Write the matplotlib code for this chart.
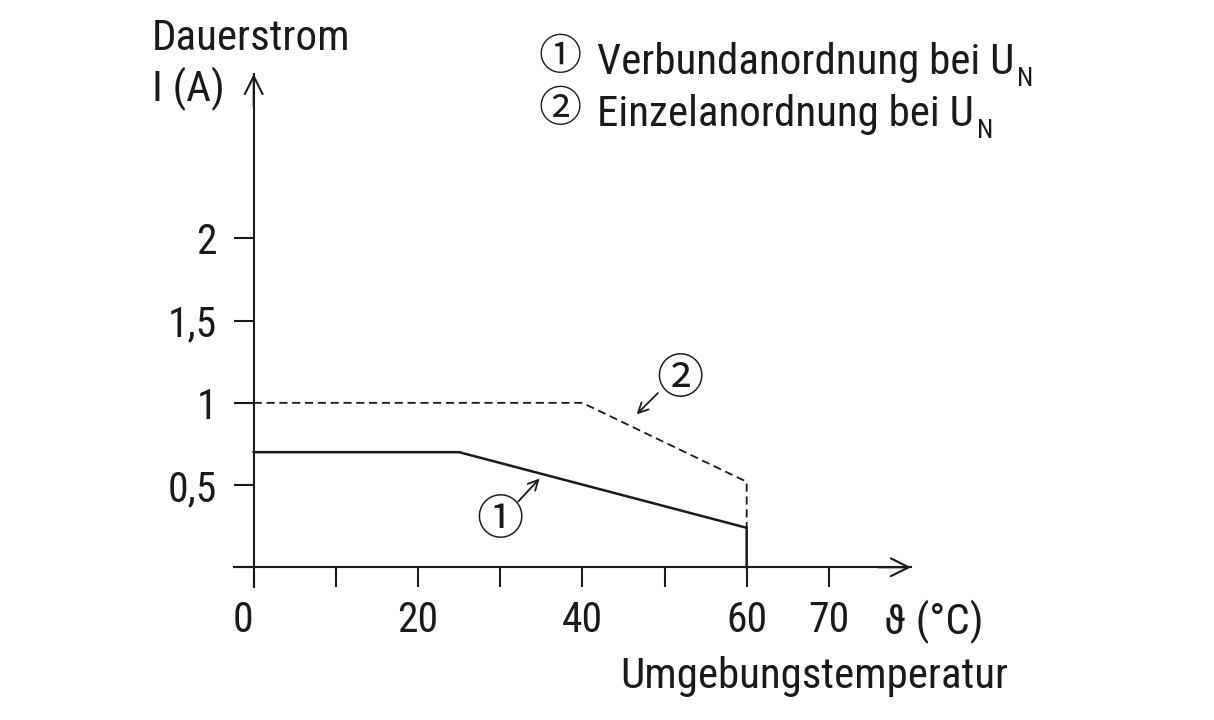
import numpy as np
import matplotlib
matplotlib.use("Agg")
import matplotlib.pyplot as plt
from matplotlib import font_manager

# data
temp_verbund = [0, 25, 60, 60]
strom_verbund = [0.7, 0.7, 0.24, 0.0]
temp_einzel = [0, 40, 60, 60]
strom_einzel = [1.0, 1.0, 0.52, 0.24]

x_ticks = [0, 10, 20, 30, 40, 50, 60, 70]
x_labels = ["0", "", "20", "", "40", "", "60", "70"]
y_ticks = [0, 0.5, 1, 1.5, 2]
y_labels = ["", "0,5", "1", "1,5", "2"]

# the original uses a condensed grotesk, take the narrowest one we have
prefs = [("Roboto Condensed", None), ("Roboto", "condensed"),
         ("Noto Sans Condensed", None), ("Noto Sans", "condensed"),
         ("Open Sans Condensed", None), ("Liberation Sans Narrow", None),
         ("DejaVu Sans", "condensed"), ("DejaVu Sans Condensed", None)]
fonts = font_manager.fontManager.ttflist
face, stretch = "Roboto", "normal"
for name, st in prefs:
    hit = [f for f in fonts if f.name == name and f.style == "normal"
           and (st is None or f.stretch == st)]
    if hit:
        face, stretch = name, hit[0].stretch
        break

plt.rcParams["font.family"] = [face, "Noto Sans CJK JP", "DejaVu Sans"]
plt.rcParams["font.stretch"] = stretch
circ = dict(family=["Noto Sans CJK JP", "DejaVu Sans"], stretch="normal")

W, H = 1214, 720
tc = "#1a1a1a"
fig = plt.figure(figsize=(W / 100, H / 100), dpi=100)

# pick the size so the long label is about as wide as in the original
probe = fig.text(0, 0, "Umgebungstemperatur", fontsize=31)
fig.canvas.draw()
wpx = probe.get_window_extent(fig.canvas.get_renderer()).width
probe.remove()
k = min(1.0, max(0.86, 395 / wpx))
fs = 31 * k
tfs = 30 * k

# axes placed so that data 0 sits on the pixel positions of the original
ax = fig.add_axes([234 / W, 133 / H, (911 - 234) / W, (646 - 133) / H])
ax.set_xlim(-2.4, 80)
ax.set_ylim(-0.12, 3.0)
ax.patch.set_visible(False)
for s in ["top", "right"]:
    ax.spines[s].set_visible(False)
for s in ["left", "bottom"]:
    ax.spines[s].set_position(("data", 0))
    ax.spines[s].set_linewidth(1.5)
    ax.spines[s].set_color(tc)

ax.set_xticks(x_ticks)
ax.set_xticklabels(x_labels)
ax.set_yticks(y_ticks)
ax.set_yticklabels(y_labels)
ax.tick_params(axis="both", direction="out", length=14.5, width=1.5,
               labelsize=tfs, colors=tc)
ax.tick_params(axis="x", pad=9)
ax.tick_params(axis="y", pad=12)
ax.get_xticklabels()[0].set_horizontalalignment("right")

# axis arrows
arr = dict(arrowstyle="->", lw=1.5, color=tc, mutation_scale=32,
           shrinkA=0, shrinkB=0)
ax.annotate("", xy=(80, 0), xytext=(76, 0), arrowprops=arr, annotation_clip=False)
ax.annotate("", xy=(0, 3.0), xytext=(0, 2.8), arrowprops=arr, annotation_clip=False)

# curves
ax.plot(temp_verbund, strom_verbund, color=tc, lw=1.8, solid_joinstyle="miter")
ax.plot(temp_einzel, strom_einzel, color=tc, lw=1.3, linestyle=(0, (4.5, 2.6)))

# curve markers
small = dict(arrowstyle="->", lw=1.3, color=tc, mutation_scale=18,
             shrinkA=0, shrinkB=0)
ax.annotate("", xy=(34.8, 0.54), xytext=(32.2, 0.40), arrowprops=small)
ax.annotate("", xy=(46.6, 0.93), xytext=(49.2, 1.06), arrowprops=small)
ax.text(30.0, 0.285, "①", fontsize=34, ha="center", va="center", color=tc, **circ)
ax.text(51.9, 1.14, "②", fontsize=34, ha="center", va="center", color=tc, **circ)

fig.text(152 / W, 1 - 50 / H, "Dauerstrom", fontsize=fs, color=tc, va="baseline")
fig.text(152 / W, 1 - 101 / H, "I (A)", fontsize=fs, color=tc, va="baseline")
fig.text(884 / W, 1 - 634 / H, "ϑ (°C)", fontsize=fs, color=tc, va="baseline")
fig.text(620 / W, 1 - 688 / H, "Umgebungstemperatur", fontsize=fs, color=tc, va="baseline")

# legend block top right
fig.text(560 / W, 1 - 58 / H, "①", fontsize=31, ha="center", va="center", color=tc, **circ)
fig.text(560 / W, 1 - 110 / H, "②", fontsize=31, ha="center", va="center", color=tc, **circ)
leg1 = fig.text(597 / W, 1 - 74 / H, "Verbundanordnung bei U", fontsize=fs, color=tc, va="baseline")
leg2 = fig.text(597 / W, 1 - 126 / H, "Einzelanordnung bei U", fontsize=fs, color=tc, va="baseline")

fig.canvas.draw()
r = fig.canvas.get_renderer()
for t in [leg1, leg2]:
    bb = t.get_window_extent(r)
    x0, y0 = t.get_position()
    fig.text(bb.x1 / W + 3 / W, y0 - 12 / H, "N", fontsize=19, color=tc, va="baseline")

fig.savefig("out.png", dpi=100, facecolor="white")
